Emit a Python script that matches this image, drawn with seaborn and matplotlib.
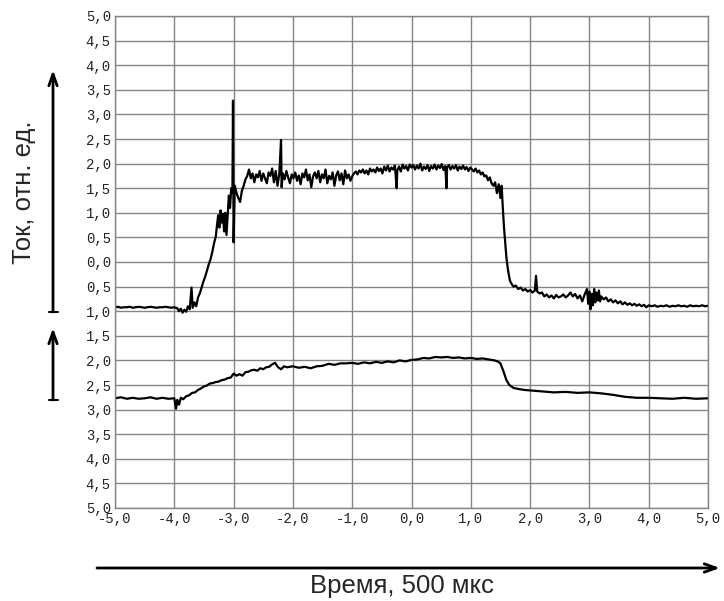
import numpy as np
import pandas as pd
import matplotlib
matplotlib.use("Agg")
import matplotlib.pyplot as plt
from matplotlib.lines import Line2D
import seaborn as sns

# ---------------- data ----------------
t1_time = [-5.00, -4.95, -4.90, -4.85, -4.80, -4.75, -4.70, -4.65, -4.60, -4.55,
           -4.50, -4.45, -4.40, -4.35, -4.30, -4.25, -4.20, -4.15, -4.10, -4.05,
           -4.00, -3.95, -3.92, -3.89, -3.86, -3.83, -3.80, -3.77, -3.74, -3.71,
           -3.69, -3.66, -3.63, -3.60, -3.57, -3.54, -3.51, -3.48, -3.45, -3.42,
           -3.39, -3.36, -3.33, -3.30, -3.28, -3.26, -3.24, -3.22, -3.20, -3.18,
           -3.16, -3.14, -3.12, -3.10, -3.08, -3.06, -3.04, -3.02, -3.01, -3.00,
           -2.98, -2.95, -2.92, -2.89, -2.86, -2.83, -2.80, -2.77, -2.74, -2.71,
           -2.68, -2.65, -2.62, -2.59, -2.56, -2.53, -2.50, -2.47, -2.44, -2.41,
           -2.38, -2.35, -2.32, -2.29, -2.26, -2.23, -2.20, -2.19, -2.17, -2.14,
           -2.11, -2.08, -2.05, -2.02, -1.99, -1.96, -1.93, -1.90, -1.87, -1.84,
           -1.81, -1.78, -1.75, -1.72, -1.69, -1.66, -1.63, -1.60, -1.57, -1.54,
           -1.51, -1.48, -1.45, -1.42, -1.39, -1.36, -1.33, -1.30, -1.27, -1.24,
           -1.21, -1.18, -1.15, -1.12, -1.09, -1.06, -1.03, -1.00, -0.97, -0.94,
           -0.91, -0.88, -0.85, -0.82, -0.79, -0.76, -0.73, -0.70, -0.67, -0.64,
           -0.61, -0.58, -0.55, -0.52, -0.49, -0.46, -0.43, -0.40, -0.37, -0.34,
           -0.31, -0.28, -0.25, -0.24, -0.21, -0.18, -0.15, -0.12, -0.09, -0.06,
           -0.03, 0.00, 0.03, 0.06, 0.09, 0.12, 0.15, 0.18, 0.21, 0.24,
           0.27, 0.30, 0.33, 0.36, 0.39, 0.42, 0.45, 0.48, 0.51, 0.54,
           0.57, 0.59, 0.60, 0.63, 0.66, 0.69, 0.72, 0.75, 0.78, 0.81,
           0.84, 0.87, 0.90, 0.93, 0.96, 0.99, 1.02, 1.05, 1.08, 1.11,
           1.14, 1.17, 1.20, 1.23, 1.26, 1.29, 1.32, 1.35, 1.38, 1.41,
           1.44, 1.47, 1.50, 1.52, 1.54, 1.56, 1.58, 1.60, 1.62, 1.64,
           1.66, 1.69, 1.72, 1.76, 1.80, 1.84, 1.88, 1.92, 1.96, 2.00,
           2.04, 2.08, 2.10, 2.12, 2.16, 2.20, 2.24, 2.28, 2.32, 2.36,
           2.40, 2.44, 2.48, 2.52, 2.56, 2.60, 2.64, 2.68, 2.72, 2.76,
           2.80, 2.84, 2.88, 2.92, 2.96, 2.98, 3.00, 3.02, 3.04, 3.06,
           3.08, 3.10, 3.12, 3.14, 3.16, 3.18, 3.20, 3.24, 3.28, 3.32,
           3.36, 3.40, 3.44, 3.48, 3.52, 3.56, 3.60, 3.64, 3.68, 3.72,
           3.76, 3.80, 3.84, 3.88, 3.92, 3.96, 4.00, 4.05, 4.10, 4.15,
           4.20, 4.25, 4.30, 4.35, 4.40, 4.45, 4.50, 4.55, 4.60, 4.65,
           4.70, 4.75, 4.80, 4.85, 4.90, 4.95, 5.00]
t1_current = [-0.92, -0.91, -0.93, -0.92, -0.92, -0.91, -0.93, -0.92, -0.91, -0.92,
              -0.93, -0.92, -0.91, -0.92, -0.93, -0.92, -0.92, -0.91, -0.92, -0.93,
              -0.92, -0.94, -1.00, -0.95, -1.03, -0.97, -1.01, -0.90, -0.96, -0.52,
              -0.93, -0.82, -0.90, -0.72, -0.64, -0.52, -0.40, -0.30, -0.18, -0.05,
              0.05, 0.20, 0.38, 0.52, 0.75, 0.95, 0.70, 1.05, 0.80, 0.98,
              0.62, 1.00, 0.55, 0.95, 1.35, 1.10, 1.50, 1.40, 3.28, 0.40,
              1.55, 1.40, 1.30, 1.22, 1.45, 1.55, 1.68, 1.75, 1.88, 1.70,
              1.80, 1.62, 1.78, 1.72, 1.85, 1.65, 1.80, 1.70, 1.60, 1.82,
              1.75, 1.90, 1.62, 1.85, 1.55, 1.78, 2.48, 1.52, 1.80, 1.68,
              1.85, 1.72, 1.60, 1.78, 1.70, 1.82, 1.65, 1.76, 1.58, 1.80,
              1.72, 1.88, 1.66, 1.78, 1.52, 1.74, 1.82, 1.70, 1.85, 1.62,
              1.78, 1.70, 1.88, 1.60, 1.75, 1.68, 1.82, 1.55, 1.76, 1.84,
              1.66, 1.80, 1.58, 1.86, 1.70, 1.78, 1.65, 1.74, 1.80, 1.84,
              1.78, 1.86, 1.82, 1.88, 1.80, 1.86, 1.78, 1.90, 1.84, 1.88,
              1.82, 1.92, 1.85, 1.90, 1.80, 1.94, 1.86, 1.96, 1.84, 1.92,
              1.88, 1.96, 1.50, 1.86, 1.94, 1.84, 1.98, 1.90, 1.95, 1.86,
              1.98, 1.92, 1.97, 1.88, 1.96, 1.90, 2.00, 1.86, 1.94, 1.89,
              1.97, 1.85, 1.95, 1.90, 1.98, 1.88, 1.96, 1.91, 1.99, 1.87,
              1.95, 1.50, 1.92, 1.97, 1.88, 1.95, 1.90, 1.97, 1.86, 1.94,
              1.89, 1.96, 1.88, 1.93, 1.85, 1.92, 1.88, 1.84, 1.90, 1.82,
              1.86, 1.78, 1.82, 1.74, 1.76, 1.66, 1.72, 1.60, 1.55, 1.62,
              1.40, 1.58, 1.30, 1.55, 1.10, 0.70, 0.40, 0.10, -0.10, -0.25,
              -0.38, -0.45, -0.50, -0.48, -0.55, -0.52, -0.58, -0.55, -0.60, -0.57,
              -0.62, -0.58, -0.28, -0.60, -0.64, -0.62, -0.70, -0.66, -0.72, -0.68,
              -0.74, -0.67, -0.72, -0.70, -0.66, -0.72, -0.68, -0.62, -0.70, -0.65,
              -0.74, -0.68, -0.80, -0.66, -0.55, -0.85, -0.60, -0.96, -0.65, -0.88,
              -0.55, -0.82, -0.62, -0.78, -0.58, -0.80, -0.70, -0.76, -0.72, -0.80,
              -0.76, -0.82, -0.78, -0.84, -0.80, -0.86, -0.82, -0.87, -0.84, -0.88,
              -0.85, -0.89, -0.86, -0.90, -0.87, -0.92, -0.88, -0.90, -0.88, -0.91,
              -0.89, -0.90, -0.88, -0.91, -0.89, -0.90, -0.88, -0.90, -0.89, -0.91,
              -0.88, -0.90, -0.89, -0.90, -0.88, -0.90, -0.89]

t2_time = [-5.00, -4.90, -4.80, -4.70, -4.60, -4.50, -4.40, -4.30, -4.20, -4.10,
           -4.00, -3.97, -3.95, -3.92, -3.89, -3.85, -3.80, -3.75, -3.70, -3.65,
           -3.60, -3.55, -3.50, -3.45, -3.40, -3.35, -3.30, -3.25, -3.20, -3.15,
           -3.10, -3.05, -3.00, -2.95, -2.90, -2.85, -2.80, -2.75, -2.70, -2.65,
           -2.60, -2.55, -2.50, -2.45, -2.40, -2.35, -2.30, -2.25, -2.20, -2.15,
           -2.10, -2.00, -1.90, -1.80, -1.70, -1.60, -1.50, -1.40, -1.30, -1.20,
           -1.10, -1.00, -0.90, -0.80, -0.70, -0.60, -0.50, -0.40, -0.30, -0.20,
           -0.10, 0.00, 0.10, 0.20, 0.30, 0.40, 0.50, 0.60, 0.70, 0.80,
           0.90, 1.00, 1.10, 1.20, 1.30, 1.40, 1.45, 1.50, 1.55, 1.60,
           1.65, 1.72, 1.80, 1.90, 2.00, 2.20, 2.40, 2.60, 2.80, 3.00,
           3.20, 3.40, 3.60, 3.80, 4.00, 4.20, 4.40, 4.60, 4.80, 5.00]
t2_current = [-2.77, -2.75, -2.78, -2.76, -2.78, -2.77, -2.75, -2.78, -2.76, -2.78,
              -2.77, -2.98, -2.80, -2.90, -2.76, -2.79, -2.73, -2.71, -2.66, -2.65,
              -2.60, -2.57, -2.53, -2.51, -2.47, -2.46, -2.44, -2.43, -2.40, -2.39,
              -2.36, -2.35, -2.27, -2.31, -2.28, -2.31, -2.24, -2.23, -2.20, -2.19,
              -2.21, -2.16, -2.18, -2.14, -2.13, -2.08, -2.05, -2.14, -2.18, -2.12,
              -2.14, -2.12, -2.15, -2.13, -2.16, -2.12, -2.11, -2.07, -2.09, -2.06,
              -2.06, -2.05, -2.07, -2.04, -2.06, -2.03, -2.05, -2.02, -2.04, -2.00,
              -2.02, -1.99, -1.98, -1.95, -1.96, -1.93, -1.94, -1.93, -1.95, -1.94,
              -1.96, -1.95, -1.97, -1.96, -1.98, -2.00, -2.02, -2.06, -2.22, -2.40,
              -2.50, -2.56, -2.58, -2.60, -2.61, -2.63, -2.65, -2.64, -2.66, -2.65,
              -2.67, -2.70, -2.74, -2.76, -2.76, -2.77, -2.78, -2.76, -2.78, -2.77]

x_ticks = [-5.0, -4.0, -3.0, -2.0, -1.0, 0.0, 1.0, 2.0, 3.0, 4.0, 5.0]
y_ticks = [-5.0, -4.5, -4.0, -3.5, -3.0, -2.5, -2.0, -1.5, -1.0, -0.5, 0.0,
           0.5, 1.0, 1.5, 2.0, 2.5, 3.0, 3.5, 4.0, 4.5, 5.0]
x_label = "Время, 500 мкс"
y_label = "Ток, отн. ед."

df1 = pd.DataFrame({"t": t1_time, "i": t1_current})
df2 = pd.DataFrame({"t": t2_time, "i": t2_current})

# ---------------- figure ----------------
sns.set_theme(style="white")
plt.rcParams["font.family"] = ["Liberation Sans", "DejaVu Sans"]

W, H = 724, 601
fig = plt.figure(figsize=(W / 100, H / 100), dpi=100)
ax = fig.add_axes([115 / W, 1 - 508 / H, (708 - 115) / W, (508 - 16) / H])

sns.lineplot(data=df1, x="t", y="i", ax=ax, color="black", linewidth=1.6,
             estimator=None, sort=False)
sns.lineplot(data=df2, x="t", y="i", ax=ax, color="black", linewidth=1.6,
             estimator=None, sort=False)

ax.set_xlim(-5, 5)
ax.set_ylim(-5, 5)
ax.set_xticks(x_ticks)
ax.set_yticks(y_ticks)
ax.set_xticklabels([f"{v:.1f}".replace(".", ",") for v in x_ticks],
                   family=["Liberation Mono", "DejaVu Sans Mono"], fontsize=10)
ax.set_yticklabels([f"{abs(v):.1f}".replace(".", ",") for v in y_ticks],
                   family=["Liberation Mono", "DejaVu Sans Mono"], fontsize=10)
ax.tick_params(axis="both", length=0, pad=3, colors="#222222")
ax.grid(True, color="#858585", linewidth=1.0)
ax.set_axisbelow(True)
for s in ax.spines.values():
    s.set_color("#858585")
    s.set_linewidth(1.0)
ax.set_xlabel("")
ax.set_ylabel("")


def fp(x, y):
    """image pixel coords -> figure fraction"""
    return (x / W, 1 - y / H)


# horizontal time arrow
ax.annotate("", xy=fp(720, 568), xytext=fp(97, 568), xycoords="figure fraction",
            textcoords="figure fraction",
            arrowprops=dict(arrowstyle="->,head_length=0.7,head_width=0.25",
                            color="black", lw=2.0, shrinkA=0, shrinkB=0))
# vertical current arrows
for y0, y1 in [(312, 70), (400, 328)]:
    ax.annotate("", xy=fp(53, y1), xytext=fp(53, y0), xycoords="figure fraction",
                textcoords="figure fraction",
                arrowprops=dict(arrowstyle="->,head_length=0.7,head_width=0.25",
                                color="black", lw=2.0, shrinkA=0, shrinkB=0))
    xa, ya = fp(49, y0)
    xb, _ = fp(58, y0)
    fig.add_artist(Line2D([xa, xb], [ya, ya], transform=fig.transFigure,
                          color="black", lw=1.5))

fig.text(402 / W, 1 - 586 / H, x_label, ha="center", va="center", fontsize=18.5)
fig.text(24 / W, 1 - 192 / H, y_label, ha="center", va="center", rotation=90,
         fontsize=18.5)

fig.savefig("out.png", dpi=100)
